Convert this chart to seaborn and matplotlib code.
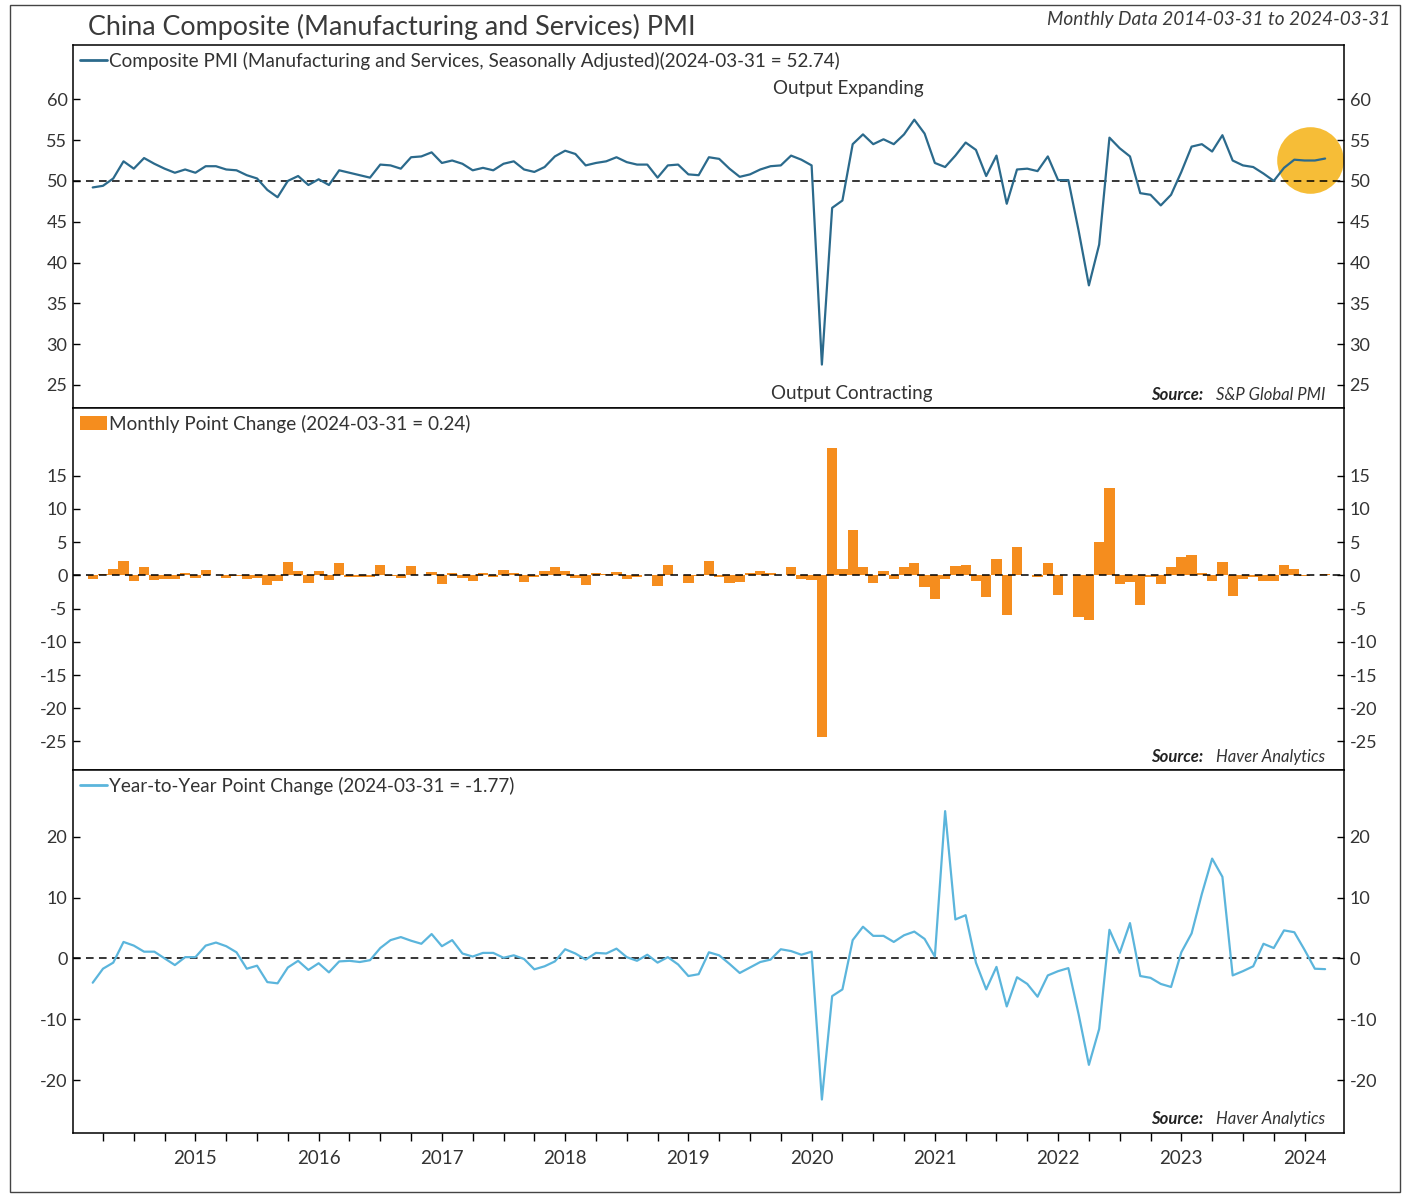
"""
China composite PMI - three stacked panels
level, monthly change, year-to-year change
"""
import numpy as np
import pandas as pd
import matplotlib
matplotlib.use("Agg")
import matplotlib.pyplot as plt
from matplotlib.lines import Line2D
from matplotlib.patches import Patch, Rectangle
import seaborn as sns

# monthly observations 2014-03 .. 2024-03
dates = pd.date_range("2014-03-31", "2024-03-31", freq="ME")

pmi = [49.2, 49.4, 50.3, 52.4, 51.5, 52.8, 52.1, 51.5, 51.0, 51.4, 51.0, 51.8,
       51.8, 51.4, 51.3, 50.7, 50.3, 48.9, 48.0, 50.0, 50.6, 49.5, 50.2, 49.5,
       51.3, 51.0, 50.7, 50.4, 52.0, 51.9, 51.5, 52.9, 53.0, 53.5, 52.2, 52.5,
       52.1, 51.3, 51.6, 51.3, 52.1, 52.4, 51.4, 51.1, 51.7, 53.0, 53.7, 53.3,
       51.9, 52.2, 52.4, 52.9, 52.3, 52.0, 52.0, 50.4, 51.9, 52.0, 50.8, 50.7,
       52.9, 52.7, 51.5, 50.5, 50.8, 51.4, 51.8, 51.9, 53.1, 52.6, 51.9, 27.5,
       46.7, 47.6, 54.5, 55.7, 54.5, 55.1, 54.5, 55.7, 57.5, 55.8, 52.2, 51.7,
       53.1, 54.7, 53.8, 50.6, 53.1, 47.2, 51.4, 51.5, 51.2, 53.0, 50.1, 50.1,
       43.9, 37.2, 42.2, 55.3, 54.0, 53.0, 48.5, 48.3, 47.0, 48.3, 51.1, 54.2,
       54.5, 53.6, 55.6, 52.5, 51.9, 51.7, 50.9, 50.0, 51.6, 52.6, 52.5, 52.5,
       52.74]

mom_change = [-0.6, 0.2, 0.9, 2.1, -0.9, 1.3, -0.7, -0.6, -0.5, 0.4, -0.4, 0.8,
              0.0, -0.4, -0.1, -0.6, -0.4, -1.4, -0.9, 2.0, 0.6, -1.1, 0.7, -0.7,
              1.8, -0.3, -0.3, -0.3, 1.6, -0.1, -0.4, 1.4, 0.1, 0.5, -1.3, 0.3,
              -0.4, -0.8, 0.3, -0.3, 0.8, 0.3, -1.0, -0.3, 0.6, 1.3, 0.7, -0.4,
              -1.4, 0.3, 0.2, 0.5, -0.6, -0.3, 0.0, -1.6, 1.5, 0.1, -1.2, -0.1,
              2.2, -0.2, -1.2, -1.0, 0.3, 0.6, 0.4, 0.1, 1.2, -0.5, -0.7, -24.4,
              19.2, 0.9, 6.9, 1.2, -1.2, 0.6, -0.6, 1.2, 1.8, -1.7, -3.6, -0.5,
              1.4, 1.6, -0.9, -3.2, 2.5, -5.9, 4.2, 0.1, -0.3, 1.8, -2.9, 0.0,
              -6.2, -6.7, 5.0, 13.1, -1.3, -1.0, -4.5, -0.2, -1.3, 1.3, 2.8, 3.1,
              0.3, -0.9, 2.0, -3.1, -0.6, -0.2, -0.8, -0.9, 1.6, 1.0, -0.1, 0.0,
              0.24]

yoy_change = [-4.0, -1.7, -0.7, 2.7, 2.1, 1.1, 1.1, 0.0, -1.1, 0.2, 0.2, 2.1,
              2.6, 2.0, 1.0, -1.7, -1.2, -3.9, -4.1, -1.5, -0.4, -1.9, -0.8, -2.3,
              -0.5, -0.4, -0.6, -0.3, 1.7, 3.0, 3.5, 2.9, 2.4, 4.0, 2.0, 3.0,
              0.8, 0.3, 0.9, 0.9, 0.1, 0.5, -0.1, -1.8, -1.3, -0.5, 1.5, 0.8,
              -0.2, 0.9, 0.8, 1.6, 0.2, -0.4, 0.6, -0.7, 0.2, -1.0, -2.9, -2.6,
              1.0, 0.5, -0.9, -2.4, -1.5, -0.6, -0.2, 1.5, 1.2, 0.6, 1.1, -23.2,
              -6.2, -5.1, 3.0, 5.2, 3.7, 3.7, 2.7, 3.8, 4.4, 3.2, 0.3, 24.2,
              6.4, 7.1, -0.7, -5.1, -1.4, -7.9, -3.1, -4.2, -6.3, -2.8, -2.1, -1.6,
              -9.2, -17.5, -11.6, 4.7, 0.9, 5.8, -2.9, -3.2, -4.2, -4.7, 1.0, 4.1,
              10.6, 16.4, 13.4, -2.8, -2.1, -1.3, 2.4, 1.7, 4.6, 4.3, 1.4, -1.7,
              -1.77]

pmi_ticks = [25, 30, 35, 40, 45, 50, 55, 60]
mom_ticks = [-25, -20, -15, -10, -5, 0, 5, 10, 15]
yoy_ticks = [-20, -10, 0, 10, 20]

c_pmi = "#2b6a8c"
c_mom = "#f58d1e"
c_yoy = "#5bb5dc"
c_txt = "#333333"

df = pd.DataFrame({"t": np.arange(len(dates)), "pmi": pmi,
                   "mom": mom_change, "yoy": yoy_change})

sns.set_style("white")
plt.rcParams['font.family'] = ['Lato', 'DejaVu Sans']
plt.rcParams['text.color'] = c_txt

fig = plt.figure(figsize=(14.08, 11.98), dpi=100)

W, H = 1408, 1198
left, right = 73, 1344


def add_panel(top, bottom):
    return fig.add_axes([left / W, 1 - bottom / H, (right - left) / W, (bottom - top) / H])


ax1 = add_panel(45, 408)
ax2 = add_panel(408, 770)
ax3 = add_panel(770, 1133)

# highlight behind the latest readings
last = df.tail(4)
ax1.scatter([last["t"].mean()], [last["pmi"].mean()], s=2300, color="#f6ba2c",
            alpha=0.95, linewidths=0, zorder=1)

sns.lineplot(data=df, x="t", y="pmi", ax=ax1, color=c_pmi, linewidth=1.6, zorder=3)
ax1.axhline(50, color="black", linestyle=(0, (5, 3.5)), linewidth=1.1, zorder=2)

sns.barplot(data=df, x="t", y="mom", ax=ax2, color=c_mom, native_scale=True,
            orient="x", width=1.0, saturation=1, linewidth=0, errorbar=None, zorder=2)
ax2.axhline(0, color="black", linestyle=(0, (5, 3.5)), linewidth=1.1, zorder=3)

sns.lineplot(data=df, x="t", y="yoy", ax=ax3, color=c_yoy, linewidth=1.6, zorder=3)
ax3.axhline(0, color="black", linestyle=(0, (5, 3.5)), linewidth=1.1, zorder=2)

# shared month axis, quarterly ticks, years on January
quarter_pos = [i for i, d in enumerate(dates) if d.month in (1, 4, 7, 10)]
quarter_lab = [str(dates[i].year) if dates[i].month == 1 else "" for i in quarter_pos]
xlim = (-1.92, 121.84)

for ax, lim, ticks in [(ax1, (22.18, 66.65), pmi_ticks),
                       (ax2, (-29.3, 25.2), mom_ticks),
                       (ax3, (-28.7, 30.96), yoy_ticks)]:
    ax.set_xlim(*xlim)
    ax.set_ylim(*lim)
    ax.set_yticks(ticks)
    ax.set_yticklabels([str(t) for t in ticks])
    ax.set_xlabel("")
    ax.set_ylabel("")
    for s in ax.spines.values():
        s.set_visible(True)
        s.set_color("black")
        s.set_linewidth(1.1)
    ax.tick_params(axis="y", which="both", left=True, right=True, labelleft=True,
                   labelright=True, direction="in", length=5, width=1.0,
                   labelsize=13, colors=c_txt, pad=4)
    ax.tick_params(axis="y", color="black")
    ax.set_xticks([])

ax3.set_xticks(quarter_pos)
ax3.set_xticklabels(quarter_lab)
ax3.tick_params(axis="x", bottom=True, direction="out", length=6, width=1.0,
                labelsize=13.5, labelcolor=c_txt, color="black", pad=6)

# panel labels
leg_kw = dict(loc="upper left", bbox_to_anchor=(0.0, 1.0), frameon=False,
              fontsize=13.6, handlelength=1.45, handletextpad=0.1, borderaxespad=0.1,
              borderpad=0.25)
ax1.legend(handles=[Line2D([], [], color=c_pmi, linewidth=2)],
           labels=["Composite PMI (Manufacturing and Services, Seasonally Adjusted)(2024-03-31 = 52.74)"],
           **leg_kw)
ax2.legend(handles=[Patch(facecolor=c_mom, edgecolor="none")],
           labels=["Monthly Point Change (2024-03-31 = 0.24)"], **leg_kw)
ax3.legend(handles=[Line2D([], [], color=c_yoy, linewidth=2)],
           labels=["Year-to-Year Point Change (2024-03-31 = -1.77)"], **leg_kw)

ax1.text(0.61, 0.879, "Output Expanding", transform=ax1.transAxes,
         ha="center", va="center", fontsize=13.5, color=c_txt)
ax1.text(0.613, 0.041, "Output Contracting", transform=ax1.transAxes,
         ha="center", va="center", fontsize=13.5, color=c_txt)


def add_source(ax, name, y):
    t = ax.text(0.985, y, name, transform=ax.transAxes, ha="right", va="center",
                fontsize=12, style="italic", color=c_txt)
    ax.annotate("Source:", xy=(0, 0.5), xycoords=t, xytext=(-9, 0),
                textcoords="offset points", ha="right", va="center",
                fontsize=12, style="italic", fontweight="bold", color="#222222")


add_source(ax1, "S&P Global PMI", 0.036)
add_source(ax2, "Haver Analytics", 0.036)
add_source(ax3, "Haver Analytics", 0.039)

fig.text(88 / W, 1 - 27 / H, "China Composite (Manufacturing and Services) PMI",
         ha="left", va="center", fontsize=19.4, color="#3a3a3a")
fig.text(1390 / W, 1 - 20 / H, "Monthly Data 2014-03-31 to 2024-03-31",
         ha="right", va="center", fontsize=13.7, style="italic", color="#3a3a3a")

# outer frame of the exhibit
fig.add_artist(Rectangle((10 / W, 1 - 1192 / H), (1400 - 10) / W, (1192 - 5) / H,
                         transform=fig.transFigure, fill=False,
                         edgecolor="#444444", linewidth=1.0))

fig.savefig("out.png", dpi=100, facecolor="white")
